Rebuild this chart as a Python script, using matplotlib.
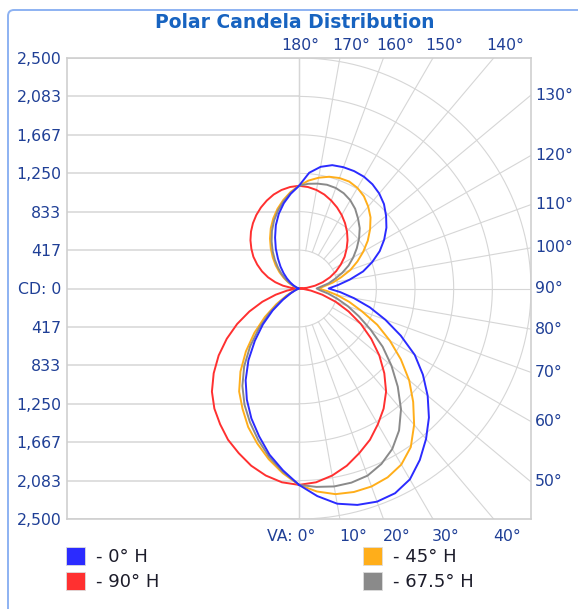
import numpy as np
import matplotlib
matplotlib.use("Agg")
import matplotlib.pyplot as plt
from matplotlib.patches import Rectangle, FancyBboxPatch
from matplotlib.transforms import IdentityTransform

# vertical angle, 0 = straight down, 180 = straight up
va_deg = list(range(0, 181, 5))

# candela on the right half (named plane) and left half (opposite plane)
cd_0h = [2130, 2260, 2370, 2430, 2460, 2450, 2390, 2270, 2130, 1980, 1810, 1630, 1440,
         1210, 990, 790, 600, 445, 320, 420, 555, 715, 840, 960, 1060, 1150, 1225,
         1295, 1345, 1380, 1400, 1405, 1400, 1385, 1340, 1260, 1114]
cd_180h = [2130, 1980, 1830, 1660, 1500, 1330, 1150, 950, 740, 550, 370, 210, 100,
           40, 10, 0, 0, 0, 0, 0, 0, 0, 15, 35, 70, 115, 170,
           235, 310, 395, 500, 610, 730, 840, 940, 1030, 1114]
cd_45h = [2130, 2210, 2265, 2285, 2285, 2260, 2205, 2100, 1930, 1740, 1550, 1340, 1130,
          930, 720, 560, 420, 300, 210, 270, 370, 470, 590, 695, 800, 905, 1000,
          1090, 1160, 1220, 1260, 1280, 1275, 1255, 1220, 1175, 1114]
cd_225h = [2130, 2010, 1880, 1740, 1600, 1440, 1290, 1100, 890, 680, 480, 300, 160,
           70, 20, 0, 0, 0, 0, 0, 0, 15, 40, 80, 135, 200, 275,
           355, 440, 530, 625, 720, 810, 895, 975, 1050, 1114]
cd_67h = [2130, 2160, 2180, 2180, 2160, 2100, 2010, 1880, 1710, 1505, 1300, 1100, 890,
          710, 560, 425, 320, 230, 190, 240, 325, 400, 495, 590, 675, 760, 845,
          925, 990, 1055, 1105, 1140, 1160, 1165, 1155, 1140, 1114]
cd_247h = [2130, 1995, 1855, 1700, 1545, 1390, 1220, 1030, 820, 610, 420, 250, 125,
           50, 15, 0, 0, 0, 0, 0, 0, 10, 30, 65, 115, 175, 245,
           320, 405, 495, 590, 690, 785, 875, 960, 1040, 1114]
cd_90h = [2130, 2110, 2060, 1990, 1900, 1810, 1700, 1590, 1460, 1300, 1130, 950, 770,
          590, 420, 260, 130, 40, 0, 85, 175, 265, 355, 440, 520, 600, 670,
          740, 805, 865, 920, 970, 1015, 1055, 1085, 1105, 1114]
cd_270h = cd_90h

legend_labels = ["- 0° H", "- 90° H", "- 45° H", "- 67.5° H"]
cd_tick_labels = ["2,500", "2,083", "1,667", "1,250", "833", "417", "CD: 0",
                  "417", "833", "1,250", "1,667", "2,083", "2,500"]
angle_ticks = list(range(0, 181, 10))

BLUE, ORANGE, RED, GRAY = "#2b2bff", "#ffae1a", "#ff3030", "#8a8a8a"
TXT = "#1f3f96"
GRID = "#d6d6d6"

W, H = 578, 609
fig = plt.figure(figsize=(W / 100, H / 100), dpi=100)
fig.patch.set_facecolor("white")

def fx(px):
    return px / W

def fy(py):
    return 1 - py / H

ax = fig.add_axes([fx(67), fy(519), fx(531) - fx(67), fy(58) - fy(519)])
R = 2500
step = R / 6
ax.set_xlim(-R, R)
ax.set_ylim(-R, R)

# grid: horizontal lines on the left half, centre line, arcs and spokes on the right
ytick_pos = [R - i * step for i in range(13)]
for yv in ytick_pos:
    ax.plot([-R, 0], [yv, yv], color=GRID, lw=1.1, zorder=1)
ax.plot([0, 0], [-R, R], color=GRID, lw=1.0, zorder=1)
t = np.linspace(0, np.pi, 200)
for k in range(1, 7):
    rr = k * step
    ax.plot(rr * np.sin(t), -rr * np.cos(t), color=GRID, lw=0.8, zorder=1)
for a in angle_ticks:
    tr = np.radians(a)
    s, c = np.sin(tr), -np.cos(tr)
    kk = R / max(abs(s), abs(c))
    ax.plot([step * s, kk * s], [step * c, kk * c], color=GRID, lw=0.8, zorder=1)

    # angle labels where the spoke meets the box
    hx, hy = kk * s, kk * c
    if a <= 40:
        txt = "VA: 0°" if a == 0 else f"{a}°"
        ha = "right" if a == 0 else "left"
        off = (11.5, -12.5) if a == 0 else (-0.7, -12.5)
    elif a <= 130:
        txt, ha, off = f"{a}°", "left", (3.0, 0)
    else:
        txt = f"{a}°"
        ha = "center" if a == 180 else "left"
        off = (0.7, 9.0) if a == 180 else (-5.5, 9.0)
    ax.annotate(txt, xy=(hx, hy), xytext=off, textcoords="offset points",
                ha=ha, va="center", fontsize=11.3, color=TXT, annotation_clip=False)

# candela curves
th = np.radians(va_deg)
curves = [(cd_90h, cd_270h, RED), (cd_45h, cd_225h, ORANGE),
          (cd_67h, cd_247h, GRAY), (cd_0h, cd_180h, BLUE)]
for right, left, col in curves:
    r = np.array(right, dtype=float)
    l = np.array(left, dtype=float)
    x = np.concatenate([r * np.sin(th), -l[::-1] * np.sin(th[::-1])])
    y = np.concatenate([-r * np.cos(th), -l[::-1] * np.cos(th[::-1])])
    ax.plot(x, y, color=col, lw=1.4, zorder=3, solid_joinstyle="round")

ax.set_xticks([])
ax.set_yticks(ytick_pos)
ax.set_yticklabels(cd_tick_labels)
ax.tick_params(axis="y", length=0, pad=4, labelsize=11.3, labelcolor=TXT)
for sp in ax.spines.values():
    sp.set_color("#cfcfcf")
    sp.set_linewidth(1.2)

# title
fig.text(fx(295), fy(22), "Polar Candela Distribution", ha="center", va="center",
         fontsize=13.5, fontweight="bold", color="#1763c0")

# outer frame (left and top edges, rounded corner)
frame = FancyBboxPatch((8, -30), 700, H - 10 + 30, boxstyle="round,pad=0,rounding_size=6",
                       transform=IdentityTransform(), fill=False, edgecolor="#8db2f2",
                       lw=1.4)
fig.patches.append(frame)

# legend
leg_cols = [BLUE, RED, ORANGE, GRAY]
leg_pos = [(66, 547), (66, 572), (363, 547), (363, 572)]
for (lx, ly), col, lab in zip(leg_pos, leg_cols, legend_labels):
    fig.patches.append(Rectangle((fx(lx), fy(ly + 18)), 19 / W, 18 / H,
                                 transform=fig.transFigure, facecolor=col,
                                 edgecolor="#dddddd", lw=0.6))
    fig.text(fx(lx + 30), fy(ly + 10), lab, ha="left", va="center",
             fontsize=13, color="#1c1c2a")

fig.savefig("out.png", dpi=100)
